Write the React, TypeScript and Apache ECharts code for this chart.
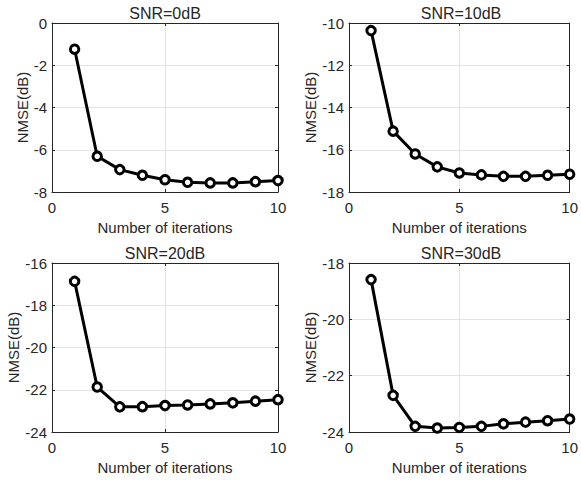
import React, { useEffect, useRef } from "react";
import * as echarts from "echarts";

const iterations = [1, 2, 3, 4, 5, 6, 7, 8, 9, 10];
const snr0 = [-1.24, -6.31, -6.94, -7.21, -7.42, -7.54, -7.57, -7.57, -7.51, -7.46];
const snr10 = [-10.36, -15.12, -16.2, -16.81, -17.1, -17.19, -17.26, -17.26, -17.21, -17.16];
const snr20 = [-16.87, -21.87, -22.81, -22.8, -22.75, -22.72, -22.67, -22.62, -22.54, -22.47];
const snr30 = [-18.59, -22.7, -23.8, -23.86, -23.84, -23.8, -23.71, -23.65, -23.6, -23.54];

const titles = ["SNR=0dB", "SNR=10dB", "SNR=20dB", "SNR=30dB"];
const seriesList = [snr0, snr10, snr20, snr30];
const yTicks = [
  [-8, -6, -4, -2, 0],
  [-18, -16, -14, -12, -10],
  [-24, -22, -20, -18, -16],
  [-24, -22, -20, -18],
];
const xTicks = [0, 5, 10];
const xLabel = "Number of iterations";
const yLabel = "NMSE(dB)";

const FONT = "Liberation Sans";
const TXT = "#262626";

export default function App() {
  const ref = useRef<HTMLDivElement>(null);
  useEffect(() => {
    if (!ref.current) return;
    const chart = echarts.init(ref.current, undefined, { renderer: "svg" });
    const grids = [
      { left: 52, top: 23, width: 226, height: 169 },
      { left: 349, top: 23, width: 224, height: 169 },
      { left: 52, top: 263, width: 226, height: 169 },
      { left: 349, top: 263, width: 224, height: 169 },
    ];
    const xAxes: any[] = [];
    const yAxes: any[] = [];
    const series: any[] = [];
    const graphics: any[] = [];
    grids.forEach((g, i) => {
      const yt = yTicks[i];
      const yRange = { min: yt[0], max: yt[yt.length - 1], interval: 2 };
      const xRange = { min: xTicks[0], max: xTicks[xTicks.length - 1], interval: 5 };
      const axisLine = { show: true, onZero: false, lineStyle: { color: TXT, width: 1 } };
      const tick = (vals: number[]) => ({
        show: true,
        inside: true,
        length: 3,
        customValues: vals,
        lineStyle: { color: TXT },
      });
      const split = { show: true, lineStyle: { color: "#e3e3e3", width: 1 } };
      xAxes.push({
        type: "value",
        gridIndex: i,
        position: "bottom",
        ...xRange,
        axisLine,
        axisTick: tick(xTicks),
        splitLine: split,
        axisLabel: { margin: 8, color: TXT, fontFamily: FONT, fontSize: 15, customValues: xTicks },
        name: xLabel,
        nameLocation: "middle",
        nameGap: 28,
        nameTextStyle: { color: TXT, fontFamily: FONT, fontSize: 15 },
      });
      xAxes.push({
        type: "value",
        gridIndex: i,
        position: "top",
        ...xRange,
        axisLine,
        axisTick: tick(xTicks),
        splitLine: { show: false },
        axisLabel: { show: false },
      });
      yAxes.push({
        type: "value",
        gridIndex: i,
        position: "left",
        ...yRange,
        axisLine,
        axisTick: tick(yt),
        splitLine: split,
        axisLabel: { margin: 5, color: TXT, fontFamily: FONT, fontSize: 15, customValues: yt },
        name: yLabel,
        nameLocation: "middle",
        nameGap: 22,
        nameTextStyle: { color: TXT, fontFamily: FONT, fontSize: 15 },
      });
      yAxes.push({
        type: "value",
        gridIndex: i,
        position: "right",
        ...yRange,
        axisLine,
        axisTick: tick(yt),
        splitLine: { show: false },
        axisLabel: { show: false },
      });
      series.push({
        type: "line",
        xAxisIndex: i * 2,
        yAxisIndex: i * 2,
        data: iterations.map((x, k) => [x, seriesList[i][k]]),
        symbol: "circle",
        symbolSize: 8.5,
        showSymbol: true,
        lineStyle: { color: "#000", width: 3 },
        itemStyle: { color: "#fff", borderColor: "#000", borderWidth: 3 },
        z: 5,
      });
      graphics.push({
        type: "text",
        x: g.left + g.width / 2,
        y: g.top - 10,
        style: {
          text: titles[i],
          textAlign: "center",
          textVerticalAlign: "middle",
          fill: TXT,
          fontFamily: FONT,
          fontSize: 16,
        },
      });
    });
    chart.setOption({
      animation: false,
      backgroundColor: "#fff",
      grid: grids.map((g) => ({ ...g, containLabel: false })),
      xAxis: xAxes,
      yAxis: yAxes,
      series,
      graphic: graphics,
    });
    return () => chart.dispose();
  }, []);
  return (
    <div
      ref={ref}
      style={{ position: "fixed", left: 0, top: 0, width: 581, height: 480, background: "#fff" }}
    />
  );
}
